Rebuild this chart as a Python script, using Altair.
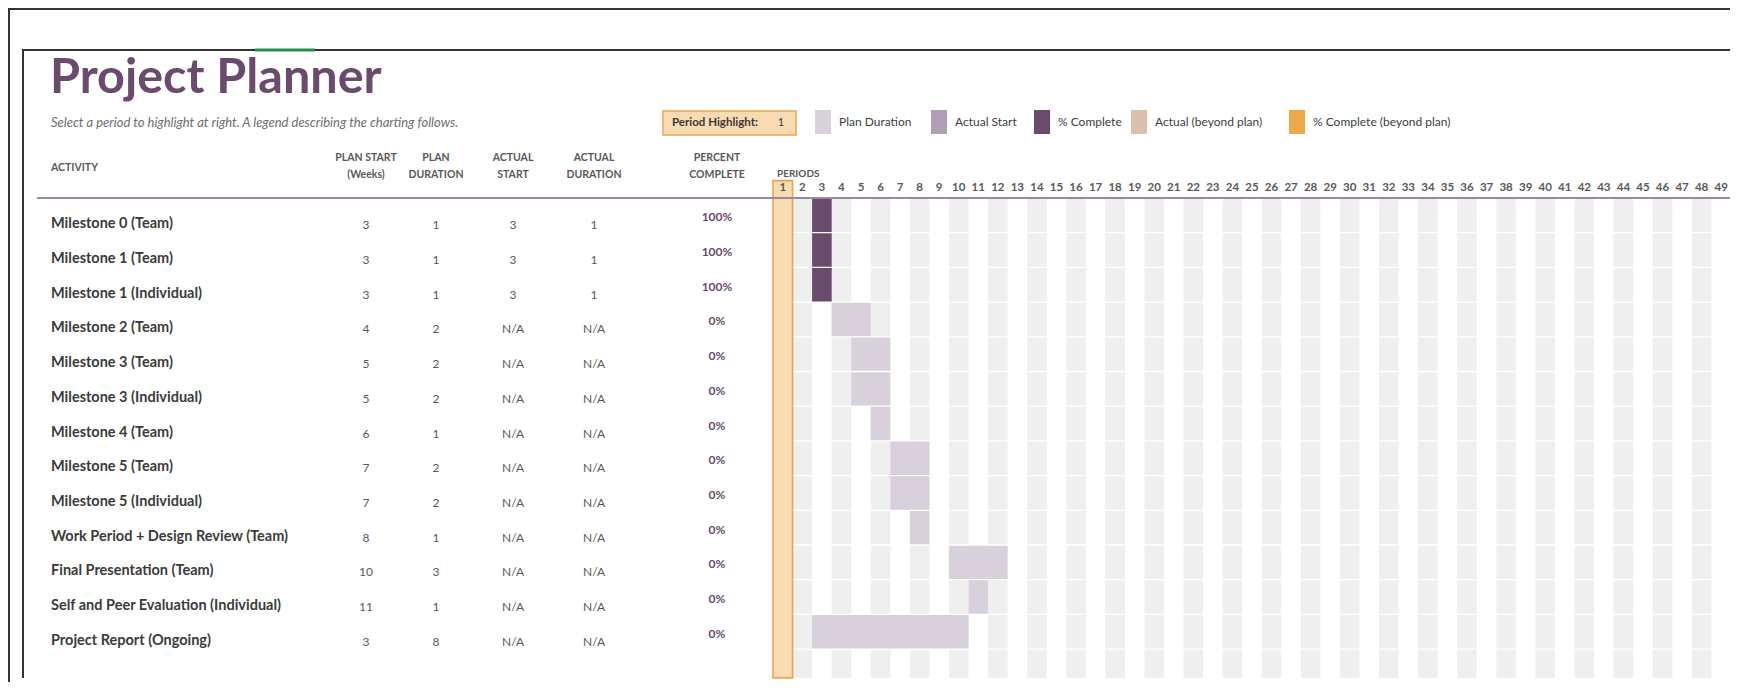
import altair as alt
import pandas as pd

# ---------------- data ----------------
title_text = "Project Planner"
subtitle_text = "Select a period to highlight at right.  A legend describing the charting follows."
activities = [
    "Milestone 0 (Team)", "Milestone 1 (Team)", "Milestone 1 (Individual)",
    "Milestone 2 (Team)", "Milestone 3 (Team)", "Milestone 3 (Individual)",
    "Milestone 4 (Team)", "Milestone 5 (Team)", "Milestone 5 (Individual)",
    "Work Period + Design Review (Team)", "Final Presentation (Team)",
    "Self and Peer Evaluation (Individual)", "Project Report (Ongoing)",
]
plan_start = [3, 3, 3, 4, 5, 5, 6, 7, 7, 8, 10, 11, 3]
plan_duration = [1, 1, 1, 2, 2, 2, 1, 2, 2, 1, 3, 1, 8]
actual_start = [3, 3, 3, None, None, None, None, None, None, None, None, None, None]
actual_duration = [1, 1, 1, None, None, None, None, None, None, None, None, None, None]
percent_complete = [100, 100, 100, 0, 0, 0, 0, 0, 0, 0, 0, 0, 0]
periods = list(range(1, 50))
highlight_period = 1
legend_labels = ["Plan Duration", "Actual Start", "% Complete", "Actual (beyond plan)", "% Complete (beyond plan)"]
legend_colors = ["#d8d0db", "#b39eb8", "#6a4a6d", "#d8c2ad", "#eea84a"]
header_line1 = ["ACTIVITY", "PLAN START", "PLAN", "ACTUAL", "ACTUAL", "PERCENT"]
header_line2 = ["", "(Weeks)", "DURATION", "START", "DURATION", "COMPLETE"]

# ---------------- layout ----------------
W, H = 1722, 674
ROW_TOP, ROW_H = 190, 34.7
COL0, COL_W = 765, 19.55
GRID_BOTTOM = 13.83
col_x = [43, 358, 428, 505, 586, 709]
legend_swatch_x = [807, 923, 1026, 1123, 1281]
FONT = "Lato"
PURPLE = "#6a4a6d"
GREY = "#595959"

n = len(activities)
rows = pd.DataFrame({
    "row": list(range(n)),
    "row_end": [i + 1 for i in range(n)],
    "mid": [i + 0.5 for i in range(n)],
    "activity": activities,
    "ps": [str(v) for v in plan_start],
    "pdur": [str(v) for v in plan_duration],
    "as": ["N/A" if v is None else str(v) for v in actual_start],
    "ad": ["N/A" if v is None else str(v) for v in actual_duration],
    "pct": [f"{v}%" for v in percent_complete],
    "start": plan_start,
    "end": [s + d for s, d in zip(plan_start, plan_duration)],
    "kind": ["Plan Duration"] * n,
})
done = pd.DataFrame([
    {"row": i, "row_end": i + 1, "start": s, "end": s + d * p / 100, "kind": "% Complete"}
    for i, (s, d, p) in enumerate(zip(actual_start, actual_duration, percent_complete))
    if s is not None and p > 0
])
per = pd.DataFrame({"p": periods, "p2": [p + 1 for p in periods], "pc": [p + 0.5 for p in periods],
                    "top": [0] * len(periods), "bot": [GRID_BOTTOM] * len(periods)})
stripes = per[per.p % 2 == 0]
hl = per[per.p == highlight_period].assign(top=-0.5)
leg = pd.DataFrame({"kind": legend_labels, "sx": legend_swatch_x,
                    "sx2": [v + 16 for v in legend_swatch_x], "tx": [v + 24 for v in legend_swatch_x]})

xs = alt.Scale(domain=[1 - COL0 / COL_W, 1 + (W - COL0) / COL_W], range=[0, W], nice=False, zero=False)
ys = alt.Scale(domain=[-ROW_TOP / ROW_H, (H - ROW_TOP) / ROW_H], range=[0, H], nice=False, zero=False)
cscale = alt.Scale(domain=legend_labels, range=legend_colors)
color = alt.Color("kind:N", scale=cscale, legend=None)

X = lambda f: alt.X(f, scale=xs, axis=None)
Y = lambda f: alt.Y(f, scale=ys, axis=None)

stripe_l = alt.Chart(stripes).mark_rect(color="#efefef").encode(x=X("p:Q"), x2="p2:Q", y=Y("top:Q"), y2="bot:Q")
plan_l = alt.Chart(rows).mark_rect().encode(x=X("start:Q"), x2="end:Q", y=Y("row:Q"), y2="row_end:Q", color=color)
done_l = alt.Chart(done).mark_rect().encode(x=X("start:Q"), x2="end:Q", y=Y("row:Q"), y2="row_end:Q", color=color)
sep_l = alt.Chart(rows).mark_rule(color="white", strokeWidth=1.3).encode(
    y=Y("row_end:Q"), x=alt.value(COL0 + COL_W), x2=alt.value(W))
hl_l = alt.Chart(hl).mark_rect(fill="#f9dbb1", stroke="#e9a64e", strokeWidth=1.6).encode(
    x=X("p:Q"), x2="p2:Q", y=Y("top:Q"), y2="bot:Q")
hdr_line = alt.Chart(rows.head(1)).mark_rule(color="#9c88a0", strokeWidth=2).encode(
    y=alt.value(ROW_TOP), x=alt.value(29), x2=alt.value(W))
pnum = alt.Chart(per).mark_text(font=FONT, fontSize=11.5, fontWeight="bold", color=GREY, baseline="middle").encode(
    x=X("pc:Q"), y=alt.value(180), text="p:Q")
periods_lbl = alt.Chart(rows.head(1)).mark_text(font=FONT, fontSize=10, fontWeight="bold", color=GREY,
                                                align="left", baseline="middle").encode(
    x=alt.value(769), y=alt.value(166), text=alt.value("PERIODS"))

# legend
leg_sw = alt.Chart(leg).mark_rect().encode(x=alt.X("sx:Q", scale=None, axis=None), x2="sx2:Q",
                                           y=alt.value(102), y2=alt.value(126), color=color)
leg_tx = alt.Chart(leg).mark_text(font=FONT, fontSize=12, color="#404040", align="left", baseline="middle").encode(
    x=alt.X("tx:Q", scale=None, axis=None), y=alt.value(114), text="kind:N")

act_l = alt.Chart(rows).mark_text(font=FONT, fontSize=14.5, fontWeight="bold", color="#3b3b3b",
                                  align="left", baseline="middle", dy=9).encode(
    x=alt.value(col_x[0]), y=Y("mid:Q"), text="activity:N")
num_layers = []
for cx, f in zip(col_x[1:5], ["ps", "pdur", "as", "ad"]):
    num_layers.append(alt.Chart(rows).mark_text(font=FONT, fontSize=12, color=GREY, baseline="middle",
                                                dy=10).encode(x=alt.value(cx), y=Y("mid:Q"), text=f"{f}:N"))
pct_l = alt.Chart(rows).mark_text(font=FONT, fontSize=12, fontWeight="bold", color=PURPLE,
                                  baseline="middle", dy=2).encode(x=alt.value(col_x[5]), y=Y("mid:Q"), text="pct:N")

hdr_layers = []
for i, (cx, l1, l2) in enumerate(zip(col_x, header_line1, header_line2)):
    if i == 0:
        hdr_layers.append(alt.Chart(rows.head(1)).mark_text(font=FONT, fontSize=10.5, fontWeight="bold", color=GREY,
                          align="left", baseline="middle").encode(x=alt.value(cx), y=alt.value(160), text=alt.value(l1)))
    else:
        hdr_layers.append(alt.Chart(rows.head(1)).mark_text(font=FONT, fontSize=10.5, fontWeight="bold", color=GREY,
                          baseline="middle").encode(x=alt.value(cx), y=alt.value(150), text=alt.value(l1)))
        hdr_layers.append(alt.Chart(rows.head(1)).mark_text(font=FONT, fontSize=10.5, fontWeight="bold", color=GREY,
                          baseline="middle").encode(x=alt.value(cx), y=alt.value(167), text=alt.value(l2)))

one = rows.head(1)
title_l = alt.Chart(one).mark_text(font=FONT, fontSize=48.5, fontWeight="bold", color=PURPLE, align="left",
                                   baseline="alphabetic").encode(x=alt.value(42), y=alt.value(85), text=alt.value(title_text))
sub_l = alt.Chart(one).mark_text(font=FONT, fontSize=13, fontStyle="italic", color="#6e6e6e", align="left",
                                 baseline="middle").encode(x=alt.value(43), y=alt.value(115), text=alt.value(subtitle_text))
box_l = alt.Chart(one).mark_rect(fill="#f9dbb1", stroke="#e9a64e", strokeWidth=1.5).encode(
    x=alt.value(655), x2=alt.value(788), y=alt.value(103), y2=alt.value(127))
box_t = alt.Chart(one).mark_text(font=FONT, fontSize=11.5, fontWeight="bold", color="#3a3a3a", align="left",
                                 baseline="middle").encode(x=alt.value(664), y=alt.value(115), text=alt.value("Period Highlight:"))
box_v = alt.Chart(one).mark_text(font=FONT, fontSize=11, color="#3a3a3a", baseline="middle").encode(
    x=alt.value(773), y=alt.value(115), text=alt.value(str(highlight_period)))

frame = [
    alt.Chart(one).mark_rule(color="#333333", strokeWidth=2).encode(x=alt.value(1), x2=alt.value(W), y=alt.value(1)),
    alt.Chart(one).mark_rule(color="#333333", strokeWidth=2).encode(x=alt.value(1), y=alt.value(0), y2=alt.value(H)),
    alt.Chart(one).mark_rule(color="#333333", strokeWidth=2).encode(x=alt.value(14), x2=alt.value(W), y=alt.value(42)),
    alt.Chart(one).mark_rule(color="#333333", strokeWidth=2).encode(x=alt.value(15), y=alt.value(42), y2=alt.value(670)),
    alt.Chart(one).mark_rule(color="#2f8a4f", strokeWidth=3).encode(x=alt.value(247), x2=alt.value(307), y=alt.value(42)),
]

chart = alt.layer(
    stripe_l, plan_l, done_l, sep_l, hl_l, hdr_line, pnum, periods_lbl, leg_sw, leg_tx,
    act_l, *num_layers, pct_l, *hdr_layers, title_l, sub_l, box_l, box_t, box_v, *frame,
).resolve_scale(x="independent").properties(width=W, height=H, padding=0,
                                             autosize=alt.AutoSizeParams(type="none")).configure_view(
    stroke=None).configure(background="white", font=FONT)

chart.save("out.html", embed_options={"renderer": "svg", "actions": False})
